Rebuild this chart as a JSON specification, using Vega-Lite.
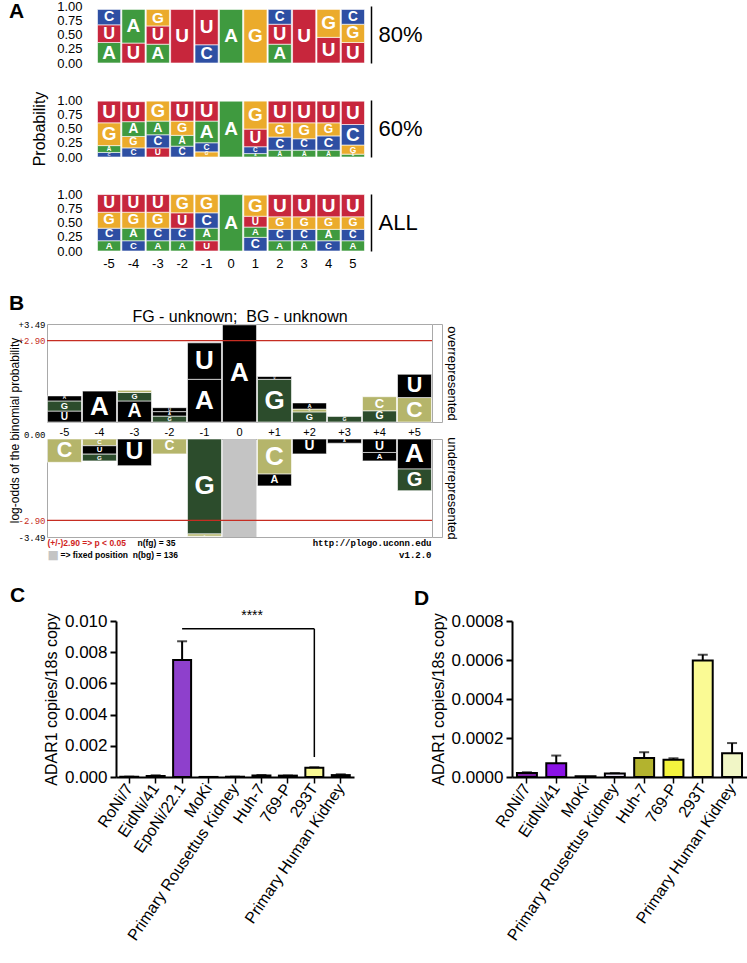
{
  "$schema": "https://vega.github.io/schema/vega-lite/v6.json",
  "background": "white",
  "padding": {"left": 7, "top": 0, "right": 0, "bottom": 0},
  "spacing": 22,
  "config": {
    "font": "Liberation Sans",
    "view": {"stroke": null},
    "axis": {"grid": false, "labelOverlap": false, "labelFont": "Liberation Sans", "titleFont": "Liberation Sans", "titleFontWeight": "normal", "labelColor": "black", "titleColor": "black"},
    "title": {"font": "Liberation Sans", "color": "black", "frame": "group"},
    "text": {"font": "Liberation Sans"}
  },
  "resolve": {"scale": {"color": "independent", "size": "independent"}},
  "datasets": {
    "logo": [
      {"set": "80%", "pos": "-5", "letter": "A", "p": 0.36, "k": 1},
      {"set": "80%", "pos": "-5", "letter": "U", "p": 0.31, "k": 2},
      {"set": "80%", "pos": "-5", "letter": "C", "p": 0.27, "k": 3},
      {"set": "80%", "pos": "-4", "letter": "U", "p": 0.35, "k": 1},
      {"set": "80%", "pos": "-4", "letter": "A", "p": 0.59, "k": 2},
      {"set": "80%", "pos": "-3", "letter": "A", "p": 0.33, "k": 1},
      {"set": "80%", "pos": "-3", "letter": "U", "p": 0.32, "k": 2},
      {"set": "80%", "pos": "-3", "letter": "G", "p": 0.29, "k": 3},
      {"set": "80%", "pos": "-2", "letter": "U", "p": 0.94, "k": 1},
      {"set": "80%", "pos": "-1", "letter": "C", "p": 0.32, "k": 1},
      {"set": "80%", "pos": "-1", "letter": "U", "p": 0.62, "k": 2},
      {"set": "80%", "pos": "0", "letter": "A", "p": 0.94, "k": 1},
      {"set": "80%", "pos": "1", "letter": "G", "p": 0.94, "k": 1},
      {"set": "80%", "pos": "2", "letter": "A", "p": 0.33, "k": 1},
      {"set": "80%", "pos": "2", "letter": "U", "p": 0.35, "k": 2},
      {"set": "80%", "pos": "2", "letter": "C", "p": 0.26, "k": 3},
      {"set": "80%", "pos": "3", "letter": "U", "p": 0.94, "k": 1},
      {"set": "80%", "pos": "4", "letter": "U", "p": 0.45, "k": 1},
      {"set": "80%", "pos": "4", "letter": "G", "p": 0.49, "k": 2},
      {"set": "80%", "pos": "5", "letter": "U", "p": 0.36, "k": 1},
      {"set": "80%", "pos": "5", "letter": "G", "p": 0.32, "k": 2},
      {"set": "80%", "pos": "5", "letter": "C", "p": 0.26, "k": 3},

      {"set": "60%", "pos": "-5", "letter": "C", "p": 0.08, "k": 1},
      {"set": "60%", "pos": "-5", "letter": "A", "p": 0.12, "k": 2},
      {"set": "60%", "pos": "-5", "letter": "G", "p": 0.40, "k": 3},
      {"set": "60%", "pos": "-5", "letter": "U", "p": 0.38, "k": 4},
      {"set": "60%", "pos": "-4", "letter": "C", "p": 0.16, "k": 1},
      {"set": "60%", "pos": "-4", "letter": "G", "p": 0.20, "k": 2},
      {"set": "60%", "pos": "-4", "letter": "A", "p": 0.26, "k": 3},
      {"set": "60%", "pos": "-4", "letter": "U", "p": 0.35, "k": 4},
      {"set": "60%", "pos": "-3", "letter": "U", "p": 0.16, "k": 1},
      {"set": "60%", "pos": "-3", "letter": "C", "p": 0.23, "k": 2},
      {"set": "60%", "pos": "-3", "letter": "A", "p": 0.24, "k": 3},
      {"set": "60%", "pos": "-3", "letter": "G", "p": 0.35, "k": 4},
      {"set": "60%", "pos": "-2", "letter": "C", "p": 0.19, "k": 1},
      {"set": "60%", "pos": "-2", "letter": "A", "p": 0.19, "k": 2},
      {"set": "60%", "pos": "-2", "letter": "G", "p": 0.25, "k": 3},
      {"set": "60%", "pos": "-2", "letter": "U", "p": 0.35, "k": 4},
      {"set": "60%", "pos": "-1", "letter": "G", "p": 0.09, "k": 1},
      {"set": "60%", "pos": "-1", "letter": "C", "p": 0.16, "k": 2},
      {"set": "60%", "pos": "-1", "letter": "A", "p": 0.38, "k": 3},
      {"set": "60%", "pos": "-1", "letter": "U", "p": 0.35, "k": 4},
      {"set": "60%", "pos": "0", "letter": "A", "p": 0.98, "k": 1},
      {"set": "60%", "pos": "1", "letter": "A", "p": 0.06, "k": 1},
      {"set": "60%", "pos": "1", "letter": "C", "p": 0.12, "k": 2},
      {"set": "60%", "pos": "1", "letter": "U", "p": 0.31, "k": 3},
      {"set": "60%", "pos": "1", "letter": "G", "p": 0.49, "k": 4},
      {"set": "60%", "pos": "2", "letter": "A", "p": 0.12, "k": 1},
      {"set": "60%", "pos": "2", "letter": "C", "p": 0.23, "k": 2},
      {"set": "60%", "pos": "2", "letter": "G", "p": 0.25, "k": 3},
      {"set": "60%", "pos": "2", "letter": "U", "p": 0.38, "k": 4},
      {"set": "60%", "pos": "3", "letter": "A", "p": 0.12, "k": 1},
      {"set": "60%", "pos": "3", "letter": "C", "p": 0.20, "k": 2},
      {"set": "60%", "pos": "3", "letter": "G", "p": 0.28, "k": 3},
      {"set": "60%", "pos": "3", "letter": "U", "p": 0.38, "k": 4},
      {"set": "60%", "pos": "4", "letter": "A", "p": 0.12, "k": 1},
      {"set": "60%", "pos": "4", "letter": "C", "p": 0.25, "k": 2},
      {"set": "60%", "pos": "4", "letter": "G", "p": 0.23, "k": 3},
      {"set": "60%", "pos": "4", "letter": "U", "p": 0.38, "k": 4},
      {"set": "60%", "pos": "5", "letter": "A", "p": 0.05, "k": 1},
      {"set": "60%", "pos": "5", "letter": "G", "p": 0.16, "k": 2},
      {"set": "60%", "pos": "5", "letter": "C", "p": 0.36, "k": 3},
      {"set": "60%", "pos": "5", "letter": "U", "p": 0.41, "k": 4},

      {"set": "ALL", "pos": "-5", "letter": "A", "p": 0.18, "k": 1},
      {"set": "ALL", "pos": "-5", "letter": "C", "p": 0.22, "k": 2},
      {"set": "ALL", "pos": "-5", "letter": "G", "p": 0.28, "k": 3},
      {"set": "ALL", "pos": "-5", "letter": "U", "p": 0.31, "k": 4},
      {"set": "ALL", "pos": "-4", "letter": "C", "p": 0.18, "k": 1},
      {"set": "ALL", "pos": "-4", "letter": "A", "p": 0.22, "k": 2},
      {"set": "ALL", "pos": "-4", "letter": "G", "p": 0.28, "k": 3},
      {"set": "ALL", "pos": "-4", "letter": "U", "p": 0.31, "k": 4},
      {"set": "ALL", "pos": "-3", "letter": "A", "p": 0.18, "k": 1},
      {"set": "ALL", "pos": "-3", "letter": "C", "p": 0.22, "k": 2},
      {"set": "ALL", "pos": "-3", "letter": "G", "p": 0.28, "k": 3},
      {"set": "ALL", "pos": "-3", "letter": "U", "p": 0.31, "k": 4},
      {"set": "ALL", "pos": "-2", "letter": "A", "p": 0.18, "k": 1},
      {"set": "ALL", "pos": "-2", "letter": "C", "p": 0.22, "k": 2},
      {"set": "ALL", "pos": "-2", "letter": "U", "p": 0.27, "k": 3},
      {"set": "ALL", "pos": "-2", "letter": "G", "p": 0.32, "k": 4},
      {"set": "ALL", "pos": "-1", "letter": "U", "p": 0.18, "k": 1},
      {"set": "ALL", "pos": "-1", "letter": "A", "p": 0.22, "k": 2},
      {"set": "ALL", "pos": "-1", "letter": "C", "p": 0.27, "k": 3},
      {"set": "ALL", "pos": "-1", "letter": "G", "p": 0.32, "k": 4},
      {"set": "ALL", "pos": "0", "letter": "A", "p": 0.99, "k": 1},
      {"set": "ALL", "pos": "1", "letter": "C", "p": 0.24, "k": 1},
      {"set": "ALL", "pos": "1", "letter": "A", "p": 0.18, "k": 2},
      {"set": "ALL", "pos": "1", "letter": "U", "p": 0.19, "k": 3},
      {"set": "ALL", "pos": "1", "letter": "G", "p": 0.37, "k": 4},
      {"set": "ALL", "pos": "2", "letter": "A", "p": 0.18, "k": 1},
      {"set": "ALL", "pos": "2", "letter": "C", "p": 0.20, "k": 2},
      {"set": "ALL", "pos": "2", "letter": "G", "p": 0.22, "k": 3},
      {"set": "ALL", "pos": "2", "letter": "U", "p": 0.39, "k": 4},
      {"set": "ALL", "pos": "3", "letter": "A", "p": 0.18, "k": 1},
      {"set": "ALL", "pos": "3", "letter": "C", "p": 0.20, "k": 2},
      {"set": "ALL", "pos": "3", "letter": "G", "p": 0.22, "k": 3},
      {"set": "ALL", "pos": "3", "letter": "U", "p": 0.39, "k": 4},
      {"set": "ALL", "pos": "4", "letter": "C", "p": 0.18, "k": 1},
      {"set": "ALL", "pos": "4", "letter": "A", "p": 0.20, "k": 2},
      {"set": "ALL", "pos": "4", "letter": "G", "p": 0.22, "k": 3},
      {"set": "ALL", "pos": "4", "letter": "U", "p": 0.39, "k": 4},
      {"set": "ALL", "pos": "5", "letter": "A", "p": 0.18, "k": 1},
      {"set": "ALL", "pos": "5", "letter": "C", "p": 0.20, "k": 2},
      {"set": "ALL", "pos": "5", "letter": "G", "p": 0.22, "k": 3},
      {"set": "ALL", "pos": "5", "letter": "U", "p": 0.39, "k": 4}
    ],
    "plogo": [
      {"pos": "-5", "letter": "U", "v": 0.39, "k": 1},
      {"pos": "-5", "letter": "G", "v": 0.36, "k": 2},
      {"pos": "-5", "letter": "A", "v": 0.18, "k": 3},
      {"pos": "-4", "letter": "A", "v": 1.10, "k": 1},
      {"pos": "-3", "letter": "A", "v": 0.75, "k": 1},
      {"pos": "-3", "letter": "G", "v": 0.30, "k": 2},
      {"pos": "-3", "letter": "C", "v": 0.08, "k": 3},
      {"pos": "-2", "letter": "G", "v": 0.21, "k": 1},
      {"pos": "-2", "letter": "A", "v": 0.16, "k": 2},
      {"pos": "-2", "letter": "U", "v": 0.14, "k": 3},
      {"pos": "-1", "letter": "A", "v": 1.52, "k": 1},
      {"pos": "-1", "letter": "U", "v": 1.30, "k": 2},
      {"pos": "0", "letter": "A", "v": 3.46, "k": 1},
      {"pos": "+1", "letter": "G", "v": 1.52, "k": 1},
      {"pos": "+1", "letter": "U", "v": 0.10, "k": 2},
      {"pos": "+2", "letter": "G", "v": 0.36, "k": 1},
      {"pos": "+2", "letter": "C", "v": 0.10, "k": 2},
      {"pos": "+2", "letter": "A", "v": 0.22, "k": 3},
      {"pos": "+3", "letter": "G", "v": 0.20, "k": 1},
      {"pos": "+4", "letter": "G", "v": 0.40, "k": 1},
      {"pos": "+4", "letter": "C", "v": 0.50, "k": 2},
      {"pos": "+5", "letter": "C", "v": 0.87, "k": 1},
      {"pos": "+5", "letter": "U", "v": 0.83, "k": 2},
      {"pos": "-5", "letter": "C", "v": -0.83, "k": 1},
      {"pos": "-4", "letter": "C", "v": -0.24, "k": 1},
      {"pos": "-4", "letter": "U", "v": -0.30, "k": 2},
      {"pos": "-4", "letter": "G", "v": -0.24, "k": 3},
      {"pos": "-3", "letter": "U", "v": -0.95, "k": 1},
      {"pos": "-2", "letter": "C", "v": -0.53, "k": 1},
      {"pos": "-1", "letter": "G", "v": -3.38, "k": 1},
      {"pos": "-1", "letter": "C", "v": -0.08, "k": 2},
      {"pos": "+1", "letter": "C", "v": -1.25, "k": 1},
      {"pos": "+1", "letter": "A", "v": -0.42, "k": 2},
      {"pos": "+2", "letter": "U", "v": -0.53, "k": 1},
      {"pos": "+3", "letter": "A", "v": -0.15, "k": 1},
      {"pos": "+4", "letter": "U", "v": -0.48, "k": 1},
      {"pos": "+4", "letter": "A", "v": -0.30, "k": 2},
      {"pos": "+5", "letter": "A", "v": -1.07, "k": 1},
      {"pos": "+5", "letter": "G", "v": -0.77, "k": 2}
    ],
    "fixed": [{"pos": "0"}],
    "cut": [{"cut": 2.9}, {"cut": -2.9}],
    "adar": [
      {"cell": "RoNi/7", "mean": 0.00002, "upper": 0.000024},
      {"cell": "EidNi/41", "mean": 0.00007, "upper": 0.00011},
      {"cell": "EpoNi/22.1", "mean": 0.0075, "upper": 0.0087},
      {"cell": "MoKi", "mean": 0.000004, "upper": null},
      {"cell": "Primary Rousettus Kidney", "mean": 0.000018, "upper": 0.00002},
      {"cell": "Huh-7", "mean": 0.000097, "upper": 0.000127},
      {"cell": "769-P", "mean": 0.000088, "upper": 0.000096},
      {"cell": "293T", "mean": 0.000597, "upper": 0.000627},
      {"cell": "Primary Human Kidney", "mean": 0.000122, "upper": 0.000174}
    ]
  },
  "vconcat": [
    {
      "bounds": "flush",
      "spacing": 0,
      "hconcat": [
        {"width": 50, "height": 1, "data": {"values": []}, "mark": {"type": "point", "opacity": 0}},
        {
          "bounds": "flush",
          "spacing": 37,
          "vconcat": [
            {
              "title": {"text": "A", "anchor": "start", "fontSize": 21, "fontWeight": "bold", "dx": -88, "dy": 22, "offset": 0},
              "width": 268, "height": 57,
              "data": {"name": "logo"},
              "transform": [
                {"filter": "datum.set === '80%'"},
                {"stack": "p", "groupby": ["pos"], "sort": [{"field": "k"}], "as": ["y0", "y1"]},
                {"calculate": "(datum.y0 + datum.y1) / 2", "as": "ym"}
              ],
              "layer": [
                {"mark": {"type": "bar", "stroke": "white", "strokeWidth": 0.6},
                 "encoding": {
                   "x": {"field": "pos", "type": "ordinal", "scale": {"domain": ["-5","-4","-3","-2","-1","0","1","2","3","4","5"], "paddingInner": 0.05, "paddingOuter": 0.02}, "axis": null},
                   "y": {"field": "y0", "type": "quantitative", "scale": {"domain": [0, 1], "nice": false}, "axis": {"values": [0, 0.25, 0.5, 0.75, 1], "format": ".2f", "labelFontSize": 13, "domain": false, "ticks": false, "labelPadding": 15, "title": null}},
                   "y2": {"field": "y1"},
                   "color": {"field": "letter", "type": "nominal", "scale": {"domain": ["A", "C", "G", "U"], "range": ["#3f9a3f", "#2e4fa3", "#ebab2c", "#c7263c"]}, "legend": null}
                 }},
                {"mark": {"type": "text", "color": "white", "fontWeight": "bold", "baseline": "middle"},
                 "encoding": {
                   "x": {"field": "pos", "type": "ordinal", "scale": {"domain": ["-5","-4","-3","-2","-1","0","1","2","3","4","5"], "paddingInner": 0.05, "paddingOuter": 0.02}, "axis": null},
                   "y": {"field": "ym", "type": "quantitative", "axis": {"orient": "right", "offset": 6, "labels": false, "ticks": false, "domainColor": "black", "domainWidth": 1.5, "title": "80%", "titleAngle": 0, "titleAlign": "left", "titleBaseline": "middle", "titleFontSize": 22, "titlePadding": 7}},
                   "text": {"field": "letter"},
                   "size": {"field": "p", "type": "quantitative", "scale": {"domain": [0, 0.36], "range": [0, 19], "clamp": true}, "legend": null}
                 }}
              ],
              "resolve": {"axis": {"y": "independent"}}
            },
            {
              "width": 268, "height": 57,
              "data": {"name": "logo"},
              "transform": [
                {"filter": "datum.set === '60%'"},
                {"stack": "p", "groupby": ["pos"], "sort": [{"field": "k"}], "as": ["y0", "y1"]},
                {"calculate": "(datum.y0 + datum.y1) / 2", "as": "ym"}
              ],
              "layer": [
                {"mark": {"type": "bar", "stroke": "white", "strokeWidth": 0.6},
                 "encoding": {
                   "x": {"field": "pos", "type": "ordinal", "scale": {"domain": ["-5","-4","-3","-2","-1","0","1","2","3","4","5"], "paddingInner": 0.05, "paddingOuter": 0.02}, "axis": null},
                   "y": {"field": "y0", "type": "quantitative", "scale": {"domain": [0, 1], "nice": false}, "axis": {"values": [0, 0.25, 0.5, 0.75, 1], "format": ".2f", "labelFontSize": 13, "domain": false, "ticks": false, "labelPadding": 15, "title": "Probability", "titleFontSize": 16, "titlePadding": 9}},
                   "y2": {"field": "y1"},
                   "color": {"field": "letter", "type": "nominal", "scale": {"domain": ["A", "C", "G", "U"], "range": ["#3f9a3f", "#2e4fa3", "#ebab2c", "#c7263c"]}, "legend": null}
                 }},
                {"mark": {"type": "text", "color": "white", "fontWeight": "bold", "baseline": "middle"},
                 "encoding": {
                   "x": {"field": "pos", "type": "ordinal", "scale": {"domain": ["-5","-4","-3","-2","-1","0","1","2","3","4","5"], "paddingInner": 0.05, "paddingOuter": 0.02}, "axis": null},
                   "y": {"field": "ym", "type": "quantitative", "axis": {"orient": "right", "offset": 6, "labels": false, "ticks": false, "domainColor": "black", "domainWidth": 1.5, "title": "60%", "titleAngle": 0, "titleAlign": "left", "titleBaseline": "middle", "titleFontSize": 22, "titlePadding": 7}},
                   "text": {"field": "letter"},
                   "size": {"field": "p", "type": "quantitative", "scale": {"domain": [0, 0.36], "range": [0, 19], "clamp": true}, "legend": null}
                 }}
              ],
              "resolve": {"axis": {"y": "independent"}}
            },
            {
              "width": 268, "height": 57,
              "data": {"name": "logo"},
              "transform": [
                {"filter": "datum.set === 'ALL'"},
                {"stack": "p", "groupby": ["pos"], "sort": [{"field": "k"}], "as": ["y0", "y1"]},
                {"calculate": "(datum.y0 + datum.y1) / 2", "as": "ym"}
              ],
              "layer": [
                {"mark": {"type": "bar", "stroke": "white", "strokeWidth": 0.6},
                 "encoding": {
                   "x": {"field": "pos", "type": "ordinal", "scale": {"domain": ["-5","-4","-3","-2","-1","0","1","2","3","4","5"], "paddingInner": 0.05, "paddingOuter": 0.02}, "axis": {"labelAngle": 0, "labelFontSize": 13, "domain": false, "ticks": false, "labelPadding": 6, "title": null}},
                   "y": {"field": "y0", "type": "quantitative", "scale": {"domain": [0, 1], "nice": false}, "axis": {"values": [0, 0.25, 0.5, 0.75, 1], "format": ".2f", "labelFontSize": 13, "domain": false, "ticks": false, "labelPadding": 15, "title": null}},
                   "y2": {"field": "y1"},
                   "color": {"field": "letter", "type": "nominal", "scale": {"domain": ["A", "C", "G", "U"], "range": ["#3f9a3f", "#2e4fa3", "#ebab2c", "#c7263c"]}, "legend": null}
                 }},
                {"mark": {"type": "text", "color": "white", "fontWeight": "bold", "baseline": "middle"},
                 "encoding": {
                   "x": {"field": "pos", "type": "ordinal", "scale": {"domain": ["-5","-4","-3","-2","-1","0","1","2","3","4","5"], "paddingInner": 0.05, "paddingOuter": 0.02}, "axis": {"labelAngle": 0, "labelFontSize": 13, "domain": false, "ticks": false, "labelPadding": 6, "title": null}},
                   "y": {"field": "ym", "type": "quantitative", "axis": {"orient": "right", "offset": 6, "labels": false, "ticks": false, "domainColor": "black", "domainWidth": 1.5, "title": "ALL", "titleAngle": 0, "titleAlign": "left", "titleBaseline": "middle", "titleFontSize": 22, "titlePadding": 7}},
                   "text": {"field": "letter"},
                   "size": {"field": "p", "type": "quantitative", "scale": {"domain": [0, 0.36], "range": [0, 19], "clamp": true}, "legend": null}
                 }}
              ],
              "resolve": {"axis": {"y": "independent"}}
            }
          ]
        }
      ]
    },
    {
      "bounds": "flush",
      "spacing": 17,
      "vconcat": [
        {
          "title": {"text": "B", "anchor": "start", "fontSize": 21, "fontWeight": "bold", "dx": -38, "dy": 7, "offset": 1},
          "width": 385, "height": 98,
          "view": {"stroke": "#a9a9a9"},
          "layer": [
            {"data": {"name": "fixed"}, "mark": {"type": "bar", "color": "#c4c4c4"},
             "encoding": {"x": {"field": "pos", "type": "ordinal", "scale": {"domain": ["-5","-4","-3","-2","-1","0","+1","+2","+3","+4","+5"], "paddingInner": 0.03, "paddingOuter": 0.015}, "axis": {"orient": "top", "labels": false, "ticks": false, "domain": false, "title": "FG - unknown;\u00a0 BG - unknown", "titleFontSize": 16, "titlePadding": 0}}}},
            {"data": {"name": "plogo"},
             "transform": [
               {"filter": "datum.v > 0"},
               {"stack": "v", "groupby": ["pos"], "sort": [{"field": "k"}], "as": ["y0", "y1"]}
             ],
             "mark": {"type": "bar", "stroke": "white", "strokeWidth": 0.6},
             "encoding": {
               "x": {"field": "pos", "type": "ordinal", "scale": {"domain": ["-5","-4","-3","-2","-1","0","+1","+2","+3","+4","+5"], "paddingInner": 0.03, "paddingOuter": 0.015}, "axis": {"orient": "top", "labels": false, "ticks": false, "domain": false, "title": "FG - unknown;\u00a0 BG - unknown", "titleFontSize": 16, "titlePadding": 0}},
               "y": {"field": "y0", "type": "quantitative", "scale": {"domain": [0, 3.49], "nice": false},
                     "axis": {"values": [3.49, 2.9], "labelExpr": "datum.value > 0 ? '+' + format(datum.value, '.2f') : (datum.value < 0 ? '-' + format(-datum.value, '.2f') : '0.00')", "labelFont": "Liberation Mono", "labelFontSize": 9, "labelColor": {"condition": {"test": "abs(datum.value) === 2.9", "value": "#c62d22"}, "value": "black"}, "domain": false, "ticks": false, "labelPadding": 2, "title": "log-odds of the binomial probability", "titleFontSize": 12, "titleY": 106, "titleX": -26}},
               "y2": {"field": "y1"},
               "color": {"field": "letter", "type": "nominal", "scale": {"domain": ["A", "C", "G", "U"], "range": ["#000000", "#b5b56b", "#2c4c2c", "#000000"]}, "legend": null}
             }},
            {"data": {"name": "plogo"},
             "transform": [
               {"filter": "datum.v > 0"},
               {"stack": "v", "groupby": ["pos"], "sort": [{"field": "k"}], "as": ["y0", "y1"]},
               {"calculate": "(datum.y0 + datum.y1) / 2", "as": "ym"}
             ],
             "mark": {"type": "text", "color": "white", "fontWeight": "bold", "baseline": "middle"},
             "encoding": {
               "x": {"field": "pos", "type": "ordinal", "scale": {"domain": ["-5","-4","-3","-2","-1","0","+1","+2","+3","+4","+5"], "paddingInner": 0.03, "paddingOuter": 0.015}, "axis": {"orient": "top", "labels": false, "ticks": false, "domain": false, "title": "FG - unknown;\u00a0 BG - unknown", "titleFontSize": 16, "titlePadding": 0}},
               "y": {"field": "ym", "type": "quantitative", "axis": {"orient": "right", "offset": 10, "values": [0, 3.49], "labels": false, "tickSize": -10, "tickColor": "#a9a9a9", "domainColor": "#a9a9a9", "title": "overrepresented", "titleAngle": 90, "titleFontSize": 13, "titlePadding": 2}},
               "text": {"field": "letter"},
               "size": {"field": "v", "type": "quantitative", "scale": {"domain": [0, 1], "range": [0, 26], "clamp": true}, "legend": null}
             }},
            {"data": {"name": "cut"}, "transform": [{"filter": "datum.cut > 0"}],
             "mark": {"type": "rule", "color": "#c62d22", "strokeWidth": 1.2},
             "encoding": {"y": {"field": "cut", "type": "quantitative", "axis": null}}}
          ],
          "resolve": {"axis": {"y": "independent"}}
        },
        {
          "width": 385, "height": 98,
          "view": {"stroke": "#a9a9a9"},
          "layer": [
            {"data": {"name": "fixed"}, "mark": {"type": "bar", "color": "#c4c4c4"},
             "encoding": {"x": {"field": "pos", "type": "ordinal", "scale": {"domain": ["-5","-4","-3","-2","-1","0","+1","+2","+3","+4","+5"], "paddingInner": 0.03, "paddingOuter": 0.015}, "axis": {"orient": "top", "labelAngle": 0, "labelFontSize": 11, "ticks": false, "domain": false, "labelPadding": 2, "title": null}}}},
            {"data": {"name": "plogo"},
             "transform": [
               {"filter": "datum.v < 0"},
               {"stack": "v", "groupby": ["pos"], "sort": [{"field": "k"}], "as": ["y0", "y1"]}
             ],
             "mark": {"type": "bar", "stroke": "white", "strokeWidth": 0.6},
             "encoding": {
               "x": {"field": "pos", "type": "ordinal", "scale": {"domain": ["-5","-4","-3","-2","-1","0","+1","+2","+3","+4","+5"], "paddingInner": 0.03, "paddingOuter": 0.015}, "axis": {"orient": "top", "labelAngle": 0, "labelFontSize": 11, "ticks": false, "domain": false, "labelPadding": 2, "title": null}},
               "y": {"field": "y0", "type": "quantitative", "scale": {"domain": [-3.49, 0], "nice": false},
                     "axis": {"values": [0, -2.9, -3.49], "labelExpr": "datum.value > 0 ? '+' + format(datum.value, '.2f') : (datum.value < 0 ? '-' + format(-datum.value, '.2f') : '0.00')", "labelFont": "Liberation Mono", "labelFontSize": 9, "labelColor": {"condition": {"test": "abs(datum.value) === 2.9", "value": "#c62d22"}, "value": "black"}, "labelBaseline": {"condition": {"test": "datum.value === 0", "value": "bottom"}, "value": "middle"}, "domain": false, "ticks": false, "labelPadding": 2, "title": null}},
               "y2": {"field": "y1"},
               "color": {"field": "letter", "type": "nominal", "scale": {"domain": ["A", "C", "G", "U"], "range": ["#000000", "#b5b56b", "#2c4c2c", "#000000"]}, "legend": null}
             }},
            {"data": {"name": "plogo"},
             "transform": [
               {"filter": "datum.v < 0"},
               {"stack": "v", "groupby": ["pos"], "sort": [{"field": "k"}], "as": ["y0", "y1"]},
               {"calculate": "(datum.y0 + datum.y1) / 2", "as": "ym"},
               {"calculate": "-datum.v", "as": "av"}
             ],
             "mark": {"type": "text", "color": "white", "fontWeight": "bold", "baseline": "middle"},
             "encoding": {
               "x": {"field": "pos", "type": "ordinal", "scale": {"domain": ["-5","-4","-3","-2","-1","0","+1","+2","+3","+4","+5"], "paddingInner": 0.03, "paddingOuter": 0.015}, "axis": {"orient": "top", "labelAngle": 0, "labelFontSize": 11, "ticks": false, "domain": false, "labelPadding": 2, "title": null}},
               "y": {"field": "ym", "type": "quantitative", "axis": {"orient": "right", "offset": 10, "values": [0, -3.49], "labels": false, "tickSize": -10, "tickColor": "#a9a9a9", "domainColor": "#a9a9a9", "title": "underrepresented", "titleAngle": 90, "titleFontSize": 13, "titlePadding": 2}},
               "text": {"field": "letter"},
               "size": {"field": "av", "type": "quantitative", "scale": {"domain": [0, 1], "range": [0, 26], "clamp": true}, "legend": null}
             }},
            {"data": {"name": "cut"}, "transform": [{"filter": "datum.cut < 0"}],
             "mark": {"type": "rule", "color": "#c62d22", "strokeWidth": 1.2},
             "encoding": {"y": {"field": "cut", "type": "quantitative", "axis": null}}},
            {"data": {"values": [{"note": "(+/-)2.90 => p < 0.05"}]},
             "mark": {"type": "text", "align": "left", "baseline": "middle", "dx": -17, "dy": 6, "fontSize": 8.5, "fontWeight": "bold", "color": "#d0231c"},
             "encoding": {"x": {"datum": "-5"}, "y": {"datum": -3.49, "type": "quantitative", "axis": null}, "text": {"field": "note"}}},
            {"data": {"values": [{"note": "n(fg) = 35"}]},
             "mark": {"type": "text", "align": "left", "baseline": "middle", "dx": 3, "dy": 6, "fontSize": 8.5, "fontWeight": "bold", "color": "black"},
             "encoding": {"x": {"datum": "-3"}, "y": {"datum": -3.49, "type": "quantitative", "axis": null}, "text": {"field": "note"}}},
            {"data": {"values": [{"note": "http://plogo.uconn.edu"}]},
             "mark": {"type": "text", "align": "right", "baseline": "middle", "dx": 17, "dy": 6, "fontSize": 9, "fontWeight": "bold", "font": "Liberation Mono", "color": "black"},
             "encoding": {"x": {"datum": "+5"}, "y": {"datum": -3.49, "type": "quantitative", "axis": null}, "text": {"field": "note"}}},
            {"data": {"values": [{"note": "■"}]},
             "mark": {"type": "text", "align": "left", "baseline": "middle", "dx": -17, "dy": 18, "fontSize": 12, "font": "DejaVu Sans", "color": "#c4c4c4"},
             "encoding": {"x": {"datum": "-5"}, "y": {"datum": -3.49, "type": "quantitative", "axis": null}, "text": {"field": "note"}}},
            {"data": {"values": [{"note": "=> fixed position\u00a0 n(bg) = 136"}]},
             "mark": {"type": "text", "align": "left", "baseline": "middle", "dx": -4, "dy": 18, "fontSize": 8.5, "fontWeight": "bold", "color": "black"},
             "encoding": {"x": {"datum": "-5"}, "y": {"datum": -3.49, "type": "quantitative", "axis": null}, "text": {"field": "note"}}},
            {"data": {"values": [{"note": "v1.2.0"}]},
             "mark": {"type": "text", "align": "right", "baseline": "middle", "dx": 17, "dy": 18, "fontSize": 9, "fontWeight": "bold", "font": "Liberation Mono", "color": "black"},
             "encoding": {"x": {"datum": "+5"}, "y": {"datum": -3.49, "type": "quantitative", "axis": null}, "text": {"field": "note"}}}
          ],
          "resolve": {"axis": {"y": "independent"}}
        }
      ]
    },
    {
      "bounds": "flush",
      "spacing": 0,
      "hconcat": [
        {"width": 69, "height": 1, "data": {"values": []}, "mark": {"type": "point", "opacity": 0}},
        {
          "spacing": 60,
          "hconcat": [
            {
              "title": {"text": "C", "anchor": "start", "fontSize": 21, "fontWeight": "bold", "dx": -106, "offset": 3},
              "width": 238, "height": 156,
              "data": {"name": "adar"},
              "layer": [
                {"mark": {"type": "bar", "stroke": "black", "strokeWidth": 2},
                 "encoding": {
                   "x": {"field": "cell", "type": "nominal", "scale": {"domain": ["RoNi/7", "EidNi/41", "EpoNi/22.1", "MoKi", "Primary Rousettus Kidney", "Huh-7", "769-P", "293T", "Primary Human Kidney"], "paddingInner": 0.32, "paddingOuter": 0.16},
                         "axis": {"labelAngle": -56, "labelFontSize": 16, "labelLimit": 0, "domainColor": "black", "domainWidth": 2, "tickColor": "black", "tickWidth": 1.5, "tickSize": 6, "labelPadding": 2, "title": null}},
                   "y": {"field": "mean", "type": "quantitative", "scale": {"domain": [0, 0.01], "nice": false},
                         "axis": {"values": [0, 0.002, 0.004, 0.006, 0.008, 0.01], "format": ".3f", "labelOverlap": false, "labelFontSize": 17, "domainColor": "black", "domainWidth": 2, "tickColor": "black", "tickWidth": 2, "tickSize": 6, "labelPadding": 3, "title": "ADAR1 copies/18s copy", "titleFontSize": 16, "titlePadding": 5}},
                   "color": {"field": "cell", "type": "nominal", "scale": {"domain": ["RoNi/7", "EidNi/41", "EpoNi/22.1", "MoKi", "Primary Rousettus Kidney", "Huh-7", "769-P", "293T", "Primary Human Kidney"], "range": ["#7b1fa2", "#8a12e6", "#8e40cc", "#3a3a3a", "#e3dcef", "#b3b32e", "#f3f33e", "#fafa94", "#f1f6c6"]}, "legend": null}
                 }},
                {"transform": [{"filter": "datum.upper != null"}],
                 "mark": {"type": "rule", "color": "black", "strokeWidth": 2},
                 "encoding": {"x": {"field": "cell", "type": "nominal"}, "y": {"field": "mean", "type": "quantitative", "axis": {"values": [0, 0.002, 0.004, 0.006, 0.008, 0.01], "labelOverlap": false}}, "y2": {"field": "upper"}}},
                {"transform": [{"filter": "datum.upper != null"}],
                 "mark": {"type": "tick", "color": "black", "thickness": 2, "size": 10},
                 "encoding": {"x": {"field": "cell", "type": "nominal"}, "y": {"field": "upper", "type": "quantitative", "axis": {"values": [0, 0.002, 0.004, 0.006, 0.008, 0.01], "labelOverlap": false}}}},
                {"data": {"values": [{"sig": "****"}]},
                 "mark": {"type": "rule", "color": "black", "strokeWidth": 1.5},
                 "encoding": {"x": {"datum": "EpoNi/22.1"}, "x2": {"datum": "293T"}, "y": {"datum": 0.0095, "type": "quantitative", "axis": {"values": [0, 0.002, 0.004, 0.006, 0.008, 0.01], "labelOverlap": false}}}},
                {"data": {"values": [{"sig": "****"}]},
                 "mark": {"type": "rule", "color": "black", "strokeWidth": 1.5},
                 "encoding": {"x": {"datum": "293T"}, "y": {"datum": 0.0095, "type": "quantitative", "axis": {"values": [0, 0.002, 0.004, 0.006, 0.008, 0.01], "labelOverlap": false}}, "y2": {"datum": 0.00128}}},
                {"data": {"values": [{"sig": "****"}]},
                 "mark": {"type": "text", "color": "black", "fontSize": 14, "dx": 70, "dy": -6, "baseline": "bottom"},
                 "encoding": {"x": {"datum": "EpoNi/22.1"}, "y": {"datum": 0.0095, "type": "quantitative", "axis": {"values": [0, 0.002, 0.004, 0.006, 0.008, 0.01], "labelOverlap": false}}, "text": {"field": "sig"}}}
              ]
            },
            {
              "title": {"text": "D", "anchor": "start", "fontSize": 21, "fontWeight": "bold", "dx": -98, "offset": 3},
              "width": 235, "height": 156,
              "data": {"name": "adar"},
              "transform": [{"filter": "datum.cell !== 'EpoNi/22.1'"}],
              "layer": [
                {"mark": {"type": "bar", "stroke": "black", "strokeWidth": 2},
                 "encoding": {
                   "x": {"field": "cell", "type": "nominal", "scale": {"domain": ["RoNi/7", "EidNi/41", "MoKi", "Primary Rousettus Kidney", "Huh-7", "769-P", "293T", "Primary Human Kidney"], "paddingInner": 0.32, "paddingOuter": 0.17},
                         "axis": {"labelAngle": -56, "labelFontSize": 16, "labelLimit": 0, "domainColor": "black", "domainWidth": 2, "tickColor": "black", "tickWidth": 1.5, "tickSize": 6, "labelPadding": 2, "title": null}},
                   "y": {"field": "mean", "type": "quantitative", "scale": {"domain": [0, 0.0008], "nice": false},
                         "axis": {"values": [0, 0.0002, 0.0004, 0.0006, 0.0008], "format": ".4f", "labelOverlap": false, "labelFontSize": 17, "domainColor": "black", "domainWidth": 2, "tickColor": "black", "tickWidth": 2, "tickSize": 6, "labelPadding": 3, "title": "ADAR1 copies/18s copy", "titleFontSize": 16, "titlePadding": 5}},
                   "color": {"field": "cell", "type": "nominal", "scale": {"domain": ["RoNi/7", "EidNi/41", "EpoNi/22.1", "MoKi", "Primary Rousettus Kidney", "Huh-7", "769-P", "293T", "Primary Human Kidney"], "range": ["#7b1fa2", "#8a12e6", "#8e40cc", "#3a3a3a", "#e3dcef", "#b3b32e", "#f3f33e", "#fafa94", "#f1f6c6"]}, "legend": null}
                 }},
                {"transform": [{"filter": "datum.upper != null"}],
                 "mark": {"type": "rule", "color": "black", "strokeWidth": 2},
                 "encoding": {"x": {"field": "cell", "type": "nominal"}, "y": {"field": "mean", "type": "quantitative", "axis": {"values": [0, 0.0002, 0.0004, 0.0006, 0.0008], "labelOverlap": false}}, "y2": {"field": "upper"}}},
                {"transform": [{"filter": "datum.upper != null"}],
                 "mark": {"type": "tick", "color": "black", "thickness": 2, "size": 10},
                 "encoding": {"x": {"field": "cell", "type": "nominal"}, "y": {"field": "upper", "type": "quantitative", "axis": {"values": [0, 0.0002, 0.0004, 0.0006, 0.0008], "labelOverlap": false}}}}
              ]
            }
          ]
        }
      ]
    }
  ]
}
